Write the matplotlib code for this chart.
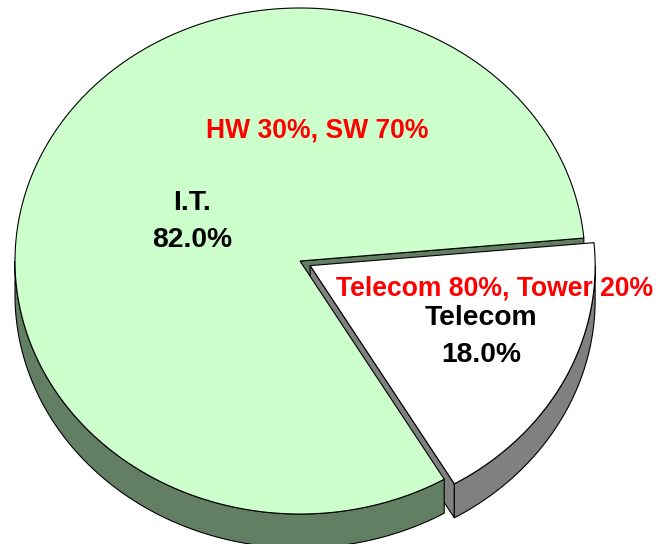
import numpy as np
import matplotlib.pyplot as plt
from matplotlib.patches import Polygon

# data
labels = ['I.T.', 'Telecom']
shares = [82.0, 18.0]
breakdown = ['HW 30%, SW 70%', 'Telecom 80%, Tower 20%']
top_colors = ['#CCFFCC', '#FFFFFF']
side_colors = ['#637F63', '#808080']
explode = [0.0, 0.04]

# layout (pixels, y down)
cx, cy = 300, 261
rx, ry = 285, 253
depth = 34
start_angle = 5.2
# baselines of the two label lines and of the red notes
label_pos = [(192, 210, 247), (481, 325, 362)]
note_pos = [(317, 137), (495, 296)]

plt.rcParams['font.family'] = ['Liberation Sans', 'DejaVu Sans']


def rim(t, off, down=0.0):
    t = np.radians(t)
    return np.column_stack([cx + off[0] + rx * np.cos(t),
                            cy + off[1] - ry * np.sin(t) + down])


def arc(t0, t1, n=200):
    return np.linspace(t0, t1, n)


fig = plt.figure(figsize=(6.58, 5.44), dpi=100)
ax = fig.add_axes([0, 0, 1, 1])
ax.set_xlim(0, 658)
ax.set_ylim(544, 0)
ax.axis('off')

# slice angles from the shares
total = sum(shares)
bounds = []
a = start_angle
for s in shares:
    b = a + 360.0 * s / total
    bounds.append((a, b))
    a = b

offsets = []
for (t0, t1), e in zip(bounds, explode):
    mid = np.radians((t0 + t1) / 2)
    offsets.append((e * rx * np.cos(mid), -e * ry * np.sin(mid)))


def cut_face(i, t, z):
    off = offsets[i]
    apex = np.array([[cx + off[0], cy + off[1]]])
    p = rim(t, off)
    poly = np.vstack([apex, p, p + [0, depth], apex + [0, depth]])
    ax.add_patch(Polygon(poly, closed=True, fc=side_colors[i], ec='black', lw=0.8, zorder=z))


def front_wall(i, t0, t1, z):
    off = offsets[i]
    ts = arc(t0, t1)
    top = rim(ts, off)
    bot = rim(ts[::-1], off, depth)
    ax.add_patch(Polygon(np.vstack([top, bot]), closed=True, fc=side_colors[i],
                         ec='black', lw=0.8, zorder=z))


def visible_range(t0, t1):
    # part of the rim that faces the viewer (lower half of the ellipse)
    lo = max(t0, 180.0)
    hi = min(t1, 360.0)
    return (lo, hi) if hi > lo else None


# IT cut face at its start edge
cut_face(0, bounds[0][0], 1)

# Telecom walls
cut_face(1, bounds[1][0], 2)
r = visible_range(bounds[1][0], bounds[1][1])
if r:
    front_wall(1, r[0], r[1], 2)

# IT front wall
r = visible_range(bounds[0][0], bounds[0][1])
if r:
    front_wall(0, r[0], r[1], 3)

# top faces
for i, (t0, t1) in enumerate(bounds):
    off = offsets[i]
    apex = np.array([[cx + off[0], cy + off[1]]])
    poly = np.vstack([apex, rim(arc(t0, t1, 400), off)])
    ax.add_patch(Polygon(poly, closed=True, fc=top_colors[i], ec='none', zorder=4 + 2 * i))
    ax.add_patch(Polygon(poly, closed=True, fill=False, ec='black', lw=0.8, zorder=5 + 2 * i))

# breakdown notes in red
for i, txt in enumerate(breakdown):
    ax.text(note_pos[i][0], note_pos[i][1], txt, color='red', fontsize=19.1,
            fontweight='bold', ha='center', va='baseline', zorder=4.5 + 2 * i)

# slice labels
for i, lab in enumerate(labels):
    x, y1, y2 = label_pos[i]
    ax.text(x, y1, lab, fontsize=20.3, fontweight='bold', ha='center',
            va='baseline', zorder=10)
    ax.text(x, y2, '{:.1f}%'.format(shares[i]), fontsize=20.3, fontweight='bold',
            ha='center', va='baseline', zorder=10)

fig.savefig('out.png', dpi=100)
